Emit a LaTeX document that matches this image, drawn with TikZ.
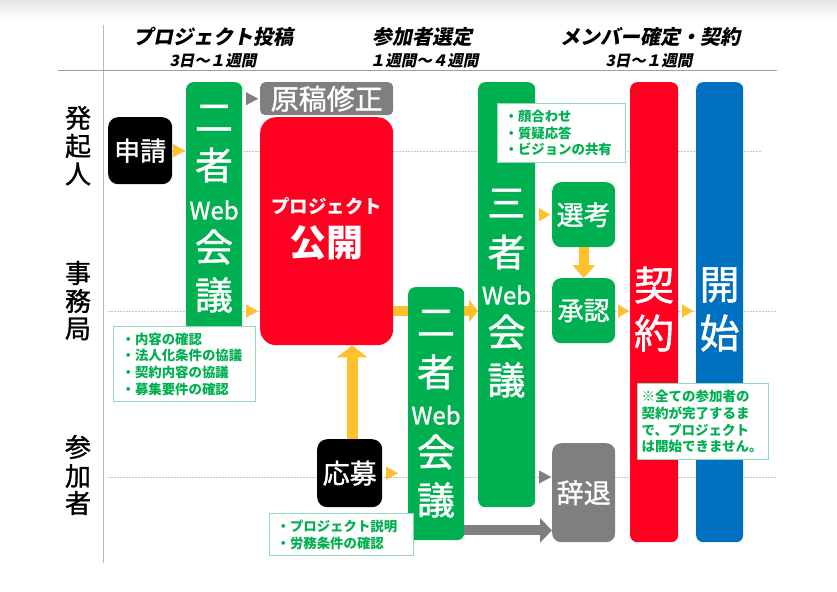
\documentclass[tikz,border=0pt]{standalone}
\usepackage{fontspec}
\setmainfont{Noto Sans CJK JP}
\newfontfamily\jpit[FakeSlant=0.2]{Noto Sans CJK JP}
\newfontfamily\jpmed[FakeBold=1.2]{Noto Sans CJK JP}
\usetikzlibrary{arrows.meta}
\newcommand\fsz[1]{\fontsize{#1}{#1}\selectfont}
\definecolor{gbox}{HTML}{00B050}
\definecolor{rbox}{HTML}{FF0020}
\definecolor{bbox}{HTML}{0070C0}
\definecolor{graybox}{HTML}{7F7F7F}
\definecolor{yel}{HTML}{FFC02D}
\definecolor{notegreen}{HTML}{00B050}
\definecolor{noteborder}{HTML}{8FDDB5}
\begin{document}
\begin{tikzpicture}[x=1pt,y=-1pt,
  box/.style={rounded corners=7pt, anchor=north west, inner sep=0pt},
  big/.style={text=white, inner sep=0pt, font=\jpmed\fsz{38}},
  web/.style={text=white, inner sep=0pt, font=\jpmed\fsz{24}},
  note/.style={draw=noteborder, line width=1.2pt, fill=white, text=notegreen, anchor=north west, align=left, inner ysep=0pt, font=\bfseries\fontsize{13.4}{16.6}\selectfont},
  lane/.style={draw=gray!45, line width=0.8pt, dash pattern=on 1.5pt off 1.5pt},
  lanelab/.style={inner sep=0pt, font=\jpmed\fsz{26}},
  head/.style={inner sep=0pt, font=\jpit\bfseries\fsz{20}},
  sub/.style={inner sep=0pt, font=\jpit\bfseries\fsz{15.5}},
  tri/.style={line width=0.01pt, -{Triangle[length=12pt,width=13pt]}},
  fat/.style={line width=10pt}
]
\useasboundingbox (0,0) rectangle (837,591);
\shade[top color=gray!20, bottom color=white] (0,0) rectangle (837,20);

% header lines
\coordinate (vt) at (103,25);
\coordinate (vb) at (103,563);
\coordinate (hl) at (58,70.5);
\coordinate (hr) at (777,70.5);
\draw[gray!55, line width=0.8pt] (vt) -- (vb);
\draw[gray!75, line width=0.8pt] (hl) -- (hr);

% headers
\node[head] (h1) at (213,37) {プロジェクト投稿};
\node[sub] (h1s) at (213,61) {3日～１週間};
\node[head] (h2) at (422,37) {参加者選定};
\node[sub] (h2s) at (424,61) {１週間～４週間};
\node[head] (h3) at (650,37) {メンバー確定・契約};
\node[sub] (h3s) at (649,61) {3日～１週間};

% lane labels
\node[lanelab] (la1) at (78,118) {発};
\node[lanelab] (la2) at (78,146) {起};
\node[lanelab] (la3) at (78,174) {人};
\node[lanelab] (lb1) at (78,273) {事};
\node[lanelab] (lb2) at (78,301) {務};
\node[lanelab] (lb3) at (78,329) {局};
\node[lanelab] (lc1) at (78,447) {参};
\node[lanelab] (lc2) at (78,476) {加};
\node[lanelab] (lc3) at (78,503) {者};

% lane lines
\coordinate (L1a) at (108,151); \coordinate (L1b) at (762,151);
\coordinate (L2a) at (108,311); \coordinate (L2b) at (777,311);
\coordinate (L3a) at (108,477); \coordinate (L3b) at (777,477);
\draw[lane] (L1a) -- (L1b);
\draw[lane] (L2a) -- (L2b);
\draw[lane] (L3a) -- (L3b);

% boxes
\node[box, rounded corners=10pt, fill=black, minimum width=64pt, minimum height=67pt, text=white, font=\jpmed\fsz{26}] (shinsei) at (108,117) {申請};
\node[box, fill=gbox, minimum width=56pt, minimum height=253pt] (nisha1) at (186,82) {};
\node[box, rounded corners=5pt, fill=graybox, minimum width=133pt, minimum height=33pt, text=white, font=\jpmed\fsz{28}] (genko) at (260,82) {原稿修正};
\node[box, rounded corners=16pt, fill=rbox, minimum width=133pt, minimum height=228pt] (kokai) at (260,117) {};
\node[box, fill=gbox, minimum width=57pt, minimum height=425pt] (sansha) at (478,82) {};
\node[box, rounded corners=9pt, fill=gbox, minimum width=63pt, minimum height=65pt, text=white, font=\jpmed\fsz{27}] (senko) at (552,182) {選考};
\node[box, rounded corners=9pt, fill=gbox, minimum width=63pt, minimum height=65pt, text=white, font=\jpmed\fsz{26}] (shonin) at (552,278) {承認};
\node[box, rounded corners=9pt, fill=graybox, minimum width=63pt, minimum height=99pt, text=white, font=\jpmed\fsz{27}] (jitai) at (552,443) {辞退};
\node[box, fill=rbox, minimum width=48pt, minimum height=460pt] (keiyaku) at (630,82) {};
\node[box, fill=bbox, minimum width=47pt, minimum height=460pt] (kaishi) at (696,82) {};
\node[box, rounded corners=10pt, fill=black, minimum width=65pt, minimum height=68pt, text=white, font=\jpmed\fsz{27}] (oubo) at (317,439) {応募};

% yellow bar from kokai through to sansha (behind nisha2)
\draw[yel, fat, -{Triangle[length=9pt,width=22pt]}] (kokai.east |- L2a) -- (sansha.west |- L2a);

\node[box, fill=gbox, minimum width=56pt, minimum height=253pt] (nisha2) at (408,287) {};

% texts inside tall boxes
\node[big] (n1a) at (214,118) {二};
\node[big] (n1b) at (214,165) {者};
\node[web] (n1c) at (214,210) {Web};
\node[big] (n1d) at (214,247) {会};
\node[big] (n1e) at (214,295) {議};

\node[inner sep=0pt, text=white, font=\bfseries\fsz{18.5}] (k1) at (326.5,206) {プロジェクト};
\node[inner sep=0pt, text=white, font=\bfseries\fsz{37}] (k2) at (326.5,243) {公開};

\node[big] (n2a) at (436,323) {二};
\node[big] (n2b) at (436,372) {者};
\node[web] (n2c) at (436,415) {Web};
\node[big] (n2d) at (436,452) {会};
\node[big] (n2e) at (436,500) {議};

\node[big] (s3a) at (506.5,203) {三};
\node[big] (s3b) at (506.5,252) {者};
\node[web] (s3c) at (506.5,295) {Web};
\node[big] (s3d) at (506.5,332) {会};
\node[big] (s3e) at (506.5,380) {議};

\node[big, font=\jpmed\fsz{40}] (ky1) at (654,285) {契};
\node[big, font=\jpmed\fsz{40}] (ky2) at (654,333) {約};
\node[big, font=\jpmed\fsz{40}] (ks1) at (719.5,285) {開};
\node[big, font=\jpmed\fsz{40}] (ks2) at (719.5,333) {始};

% notes
\node[note, minimum width=142pt, minimum height=75pt, inner xsep=8pt, text width=126pt] (note1) at (113,326)
  {・内容の確認\\・法人化条件の協議\\・契約内容の協議\\・募集要件の確認};
\node[note, minimum width=144pt, minimum height=42pt, inner xsep=7pt, text width=130pt] (note2) at (269,513)
  {・プロジェクト説明\\・労務条件の確認};
\node[note, minimum width=128pt, minimum height=59pt, inner xsep=7pt, text width=114pt] (note3) at (497,103)
  {・顔合わせ\\・質疑応答\\・ビジョンの共有};
\node[note, minimum width=131pt, minimum height=76pt, inner xsep=4pt, text width=123pt, font=\bfseries\fontsize{13.5}{16.6}\selectfont] (note4) at (637,383)
  {※全ての参加者の\\契約が完了するま\\で、プロジェクト\\は開始できません。};

% small triangle connectors
\draw[yel, tri, shorten <=1pt, shorten >=1pt] (shinsei.east) -- (shinsei.east -| nisha1.west);
\draw[yel, tri, shorten <=3pt, shorten >=2pt] (nisha1.east |- L2a) -- (kokai.west |- L2a);
\draw[graybox, tri, shorten <=3pt, shorten >=2pt] (nisha1.east |- genko.west) -- (genko.west);
\draw[yel, tri, shorten <=4pt, shorten >=10pt] (oubo.east) -- (oubo.east -| nisha2.west);
\draw[yel, tri, -{Triangle[length=11pt,width=13pt]}, shorten <=4pt, shorten >=2pt] (sansha.east |- senko.west) -- (senko.west);
\draw[graybox, tri, shorten <=3pt, shorten >=1pt] (sansha.east |- L3a) -- (jitai.west |- L3a);
\draw[yel, tri, -{Triangle[length=11pt,width=13pt]}, shorten <=3pt, shorten >=1pt] (shonin.east |- L2a) -- (keiyaku.west |- L2a);
\draw[yel, tri, -{Triangle[length=11pt,width=13pt]}, shorten <=4pt, shorten >=3pt] (keiyaku.east |- L2a) -- (kaishi.west |- L2a);

% fat arrows
\draw[yel, line width=11pt, -{Triangle[length=12pt,width=30pt]}] ([xshift=2.5pt]oubo.north) -- ([xshift=2.5pt]oubo.north |- kokai.south);
\draw[yel, fat, -{Triangle[length=13pt,width=22pt]}] (senko.south) -- (shonin.north);
\draw[graybox, fat, -{Triangle[length=12pt,width=24pt]}] ([yshift=10pt]nisha2.south east) -- ([yshift=10pt]nisha2.south east -| jitai.west);
\end{tikzpicture}
\end{document}
